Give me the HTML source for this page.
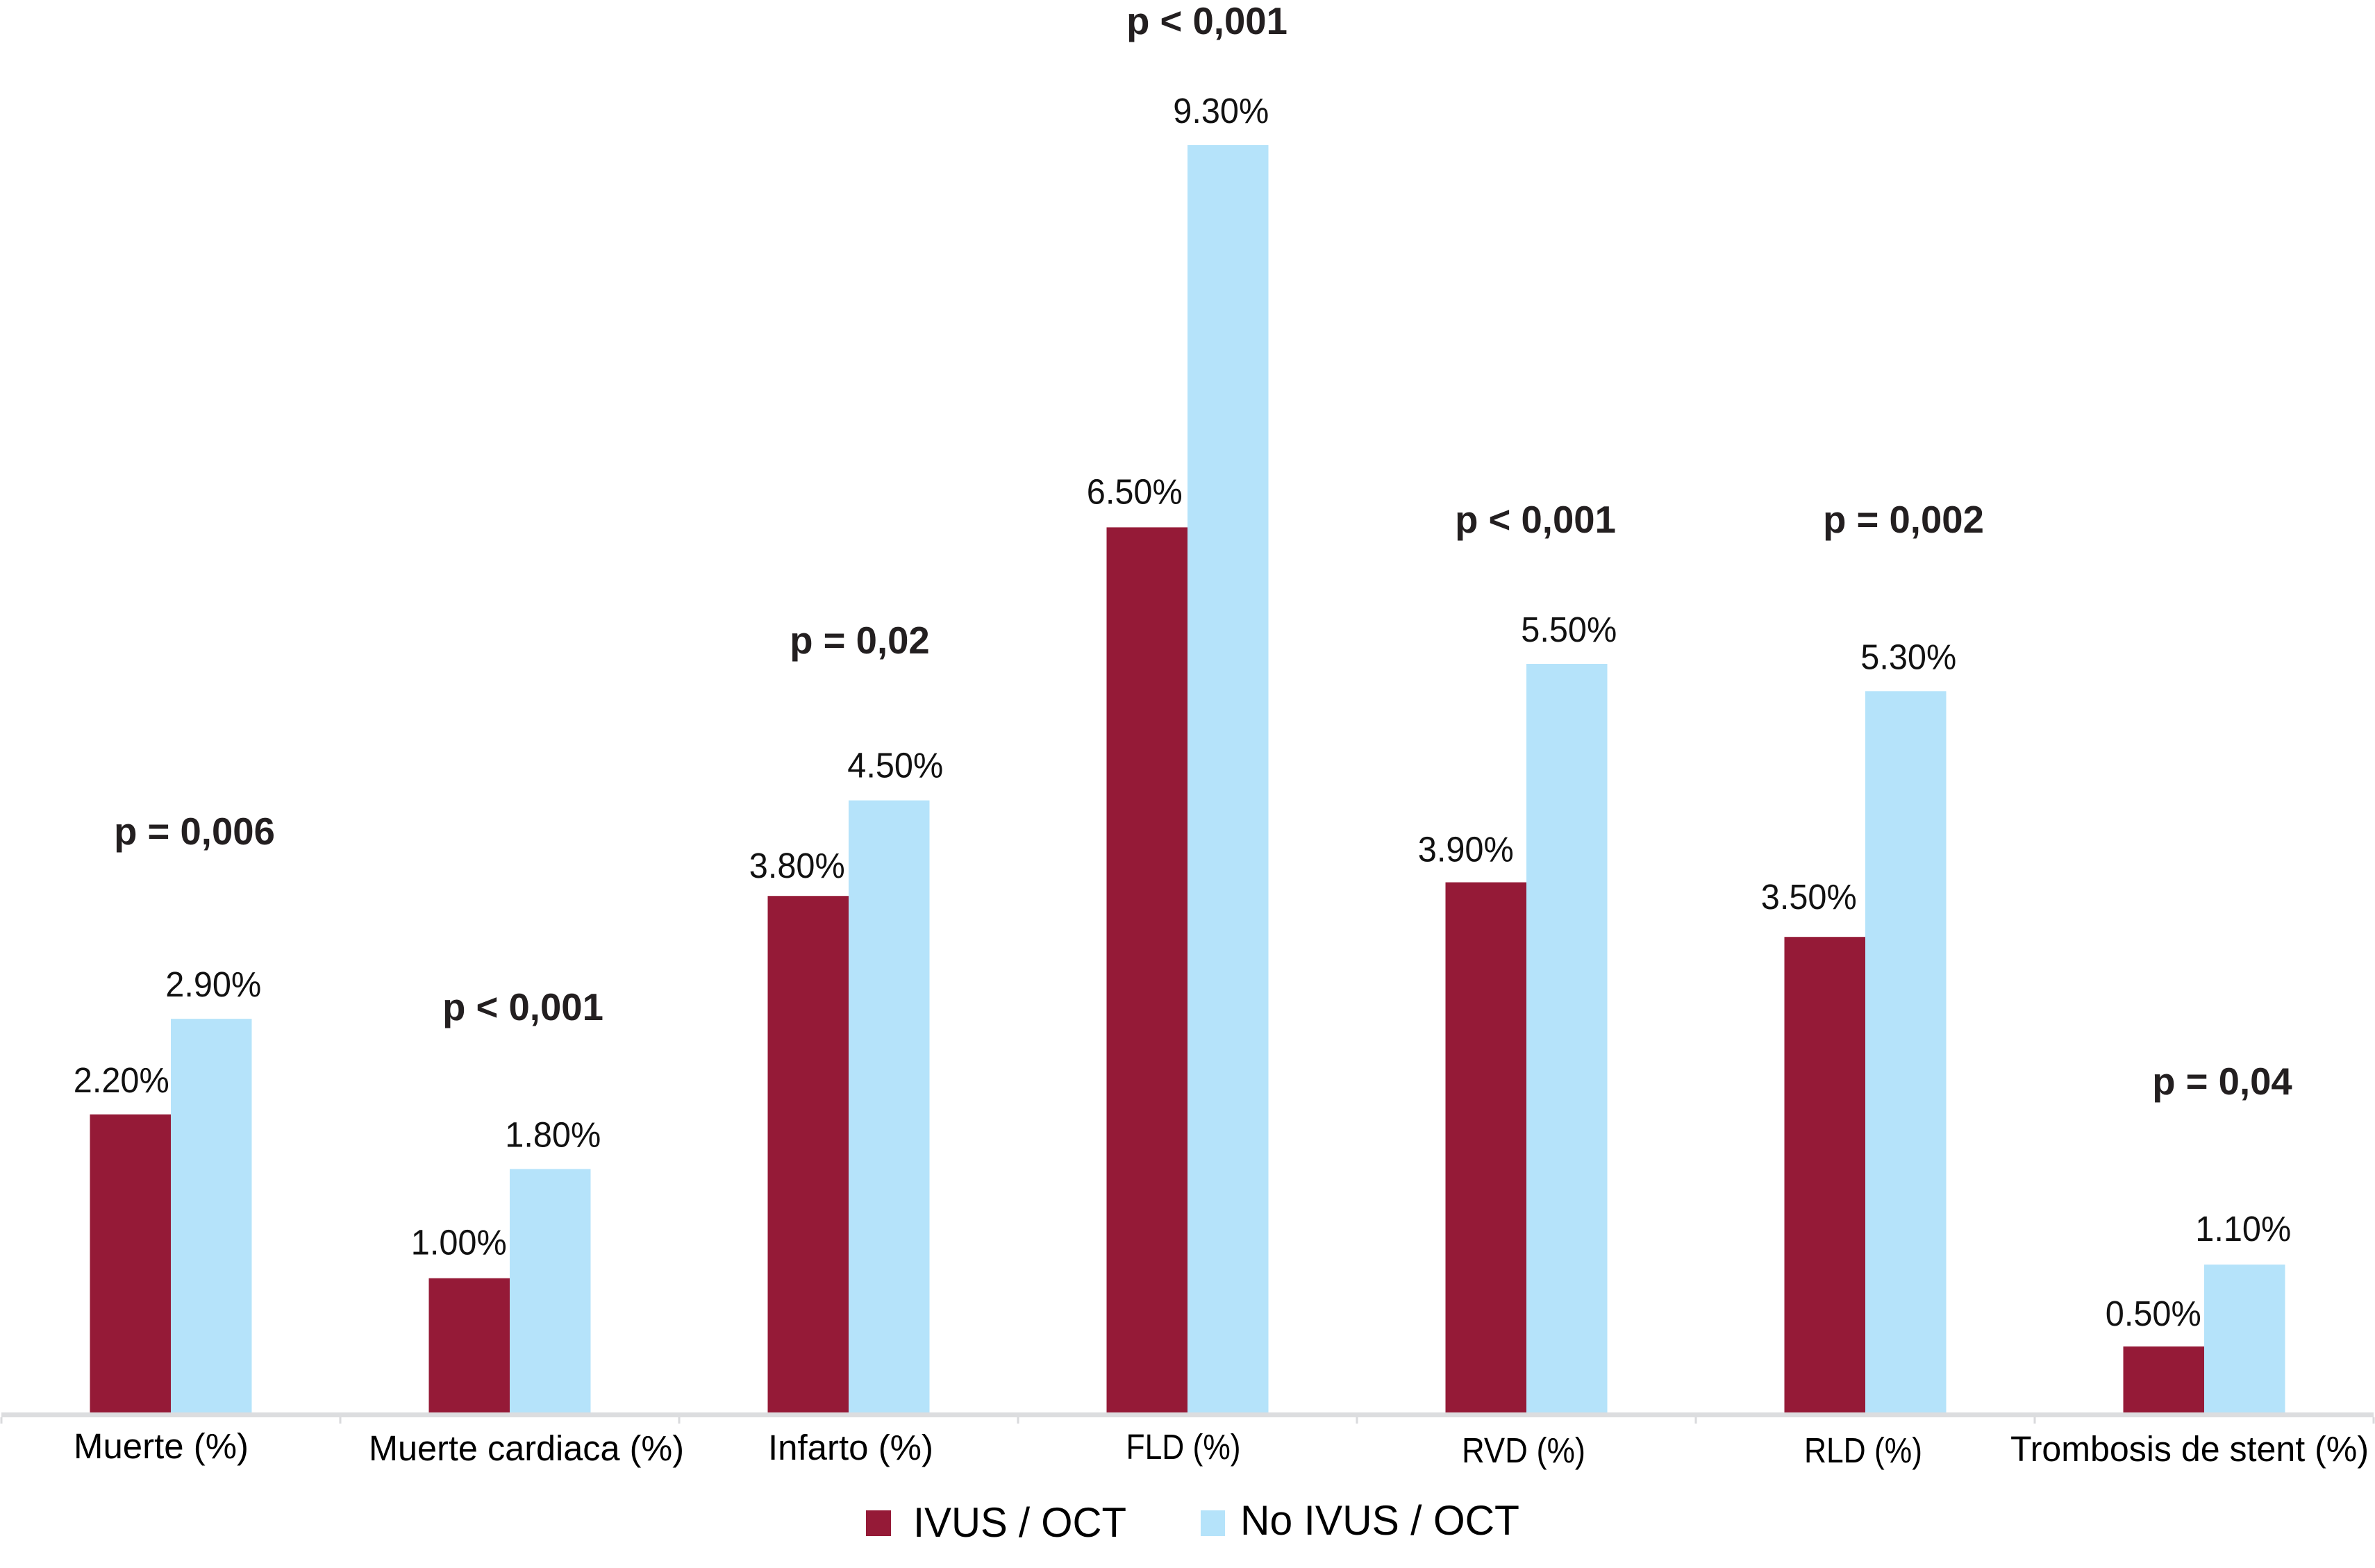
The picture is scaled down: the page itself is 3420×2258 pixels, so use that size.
<!DOCTYPE html>
<html lang="es">
<head>
<meta charset="utf-8">
<title>IVUS / OCT vs No IVUS / OCT</title>
<style>
html,body{margin:0;padding:0;background:#fff;}
body{width:3420px;height:2258px;overflow:hidden;}
svg{display:block;}
text{font-family:"Liberation Sans",sans-serif;}
.p{font-weight:700;font-size:54.5px;fill:#231f20;}
.val{font-size:51px;fill:#111;}
.cat{font-size:51px;fill:#000;}
.leg{font-size:60px;fill:#000;}
</style>
</head>
<body>
<svg id="chart" xmlns="http://www.w3.org/2000/svg" width="3420" height="2258" viewBox="0 0 3420 2258">
  <rect x="0" y="0" width="3420" height="2258" fill="#fff"/>
  <g id="bars"></g>
  <g id="value-labels"></g>
  <g id="axis"></g>
  <g>
    <text class="p" x="280" y="1216" text-anchor="middle">p = 0,006</text>
    <text class="p" x="753" y="1469" text-anchor="middle">p &lt; 0,001</text>
    <text class="p" x="1238" y="941" text-anchor="middle">p = 0,02</text>
    <text class="p" x="1738" y="49" text-anchor="middle">p &lt; 0,001</text>
    <text class="p" x="2211" y="767" text-anchor="middle">p &lt; 0,001</text>
    <text class="p" x="2741" y="767" text-anchor="middle">p = 0,002</text>
    <text class="p" x="3200" y="1576" text-anchor="middle">p = 0,04</text>
  </g>
  <g>
    <g>
      <rect x="1247" y="2175" width="36" height="37" fill="#951a37"/>
      <text class="leg" x="1315" y="2213" textLength="307" lengthAdjust="spacingAndGlyphs">IVUS / OCT</text>
    </g>
    <g>
      <rect x="1729" y="2175" width="35" height="37" fill="#b5e3fa"/>
      <text class="leg" x="1786" y="2210" textLength="402" lengthAdjust="spacingAndGlyphs">No IVUS / OCT</text>
    </g>
  </g>
</svg>
<script>
const categories = ["Muerte (%)", "Muerte cardiaca (%)", "Infarto (%)", "FLD (%)", "RVD (%)", "RLD (%)", "Trombosis de stent (%)"];
const ivusValues = [2.2, 1.0, 3.8, 6.5, 3.9, 3.5, 0.5];
const noIvusValues = [2.9, 1.8, 4.5, 9.3, 5.5, 5.3, 1.1];

// Layout of the hand-placed labels in the original figure (not data)
const ivusLabelShift = [-13, -15, -16, -18, -29, -23, -15];
const noIvusLabelShift = [3, 4, 9, -10, 3, 4, -2];
const ivusLabelLift = [32, 34, 26, 34, 30, 40, 30];
const noIvusLabelLift = [32, 32, 33, 32, 32, 32, 34];
const catLabelShiftX = [-14, 24, 3, -6, -4, -3, -21];
const catLabelBaseline = [2100, 2103, 2102, 2101, 2106, 2106, 2104];
const catLabelWidth = [252, 454, 238, 165, 178, 170, 516];

const NS = "http://www.w3.org/2000/svg";
const plotLeft = 2, plotRight = 3418, zeroY = 2037.3, unitPx = 196.6, barW = 116.5;
const band = (plotRight - plotLeft) / categories.length;
function xCenter(i) { return plotLeft + (i + 0.5) * band; }
function yScale(v) { return zeroY - v * unitPx; }
function slug(s) { return s.toLowerCase().replace(/[^a-z]+/g, '-').replace(/^-|-$/g, ''); }
function make(tag, attrs, parent) {
  const el = document.createElementNS(NS, tag);
  for (const k in attrs) el.setAttribute(k, attrs[k]);
  parent.appendChild(el);
  return el;
}

const barsG = document.getElementById('bars');
const labelsG = document.getElementById('value-labels');
const axisG = document.getElementById('axis');

function drawSeries(values, seriesName, color, barOffset, shifts, lifts) {
  values.forEach(function (v, i) {
    const cx = xCenter(i) + barOffset;
    const top = yScale(v);
    const bar = make('rect', { x: cx - barW / 2, y: top, width: barW, height: zeroY - top, fill: color }, barsG);
    
    
    const t = make('text', { x: cx + shifts[i], y: top - lifts[i], 'text-anchor': 'middle', 'class': 'val', textLength: 138, lengthAdjust: 'spacingAndGlyphs' }, labelsG);
    t.textContent = v.toFixed(2) + '%';
    
    
  });
}
drawSeries(ivusValues, 'ivus-oct', '#951a37', -barW / 2, ivusLabelShift, ivusLabelLift);
drawSeries(noIvusValues, 'no-ivus-oct', '#b5e3fa', barW / 2, noIvusLabelShift, noIvusLabelLift);

const axisLine = make('rect', { x: plotLeft, y: 2034, width: plotRight - plotLeft, height: 7, fill: '#dcdddf' }, axisG);



for (let i = 0; i <= categories.length; i++) {
  const tick = make('rect', { x: plotLeft + i * band - 1.5, y: 2041, width: 3, height: 9, fill: '#d9dadc' }, axisG);
  
  
}

categories.forEach(function (c, i) {
  const t = make('text', { x: xCenter(i) + catLabelShiftX[i], y: catLabelBaseline[i], 'text-anchor': 'middle', 'class': 'cat', textLength: catLabelWidth[i], lengthAdjust: 'spacingAndGlyphs' }, axisG);
  t.textContent = c;
  
  
});
</script>
</body>
</html>
